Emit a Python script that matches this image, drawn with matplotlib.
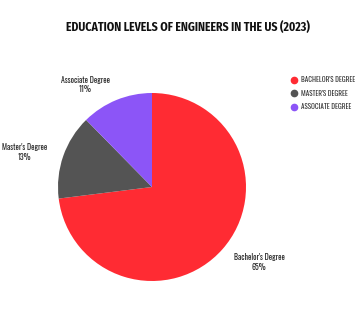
import matplotlib
matplotlib.use("Agg")
import matplotlib.pyplot as plt
from matplotlib.lines import Line2D
from matplotlib import font_manager as fm

categories = ["Bachelor's Degree", "Master's Degree", "Associate Degree"]
values = [65, 13, 11]
colors = ["#ff2b33", "#545454", "#8c55f7"]
title = "EDUCATION LEVELS OF ENGINEERS IN THE US (2023)"

_files = {f.fname.split("/")[-1].lower(): f.fname for f in fm.fontManager.ttflist}


def find_font(candidates):
    for c in candidates:
        if c.lower() in _files:
            return _files[c.lower()]
    return None


bold_path = find_font(["Oswald-Bold.ttf", "Oswald-SemiBold.ttf",
                       "FiraSansCondensed-Bold.ttf", "FiraSansExtraCondensed-Bold.ttf"])
reg_path = find_font(["Oswald-Regular.ttf", "Oswald[wght].ttf", "Oswald-Light.ttf",
                      "FiraSansCondensed-Regular.ttf", "FiraSansExtraCondensed-Regular.ttf"])


def fp(size, bold=False):
    path = bold_path if bold else reg_path
    if path:
        return fm.FontProperties(fname=path, size=size)
    return fm.FontProperties(family="DejaVu Sans", size=size,
                             weight="bold" if bold else "normal")


fig = plt.figure(figsize=(3.6, 3.11), dpi=100)
fig.patch.set_facecolor("white")
renderer = fig.canvas.get_renderer()


def fit_size(text, bold, target_px, base=10.0):
    t = fig.text(0, 0, text, fontproperties=fp(base, bold))
    w = t.get_window_extent(renderer).width
    t.remove()
    return base * target_px / w


ax = fig.add_axes([58/360, 30/311, 188/360, 188/311])
wedges, _ = ax.pie(values, colors=colors, startangle=90, counterclock=False,
                   radius=1.0, wedgeprops=dict(linewidth=0))
ax.set_xlim(-1, 1)
ax.set_ylim(-1, 1)
ax.set_aspect("equal")
ax.axis("off")

label_pos = {
    "Bachelor's Degree": (1.14, -0.80),
    "Master's Degree": (-1.36, 0.37),
    "Associate Degree": (-0.71, 1.09),
}
lab_size = fit_size("Bachelor's Degree", False, 50)
for cat, val in zip(categories, values):
    x, y = label_pos[cat]
    ax.text(x, y, f"{cat}\n{val}%", ha="center", va="center",
            fontproperties=fp(lab_size), color="#222222", linespacing=1.25,
            clip_on=False)

title_size = fit_size(title, True, 244)
fig.text(188/360, 1 - 27/311, title, ha="center", va="center",
         fontproperties=fp(title_size, bold=True), color="#111111")

leg_size = fit_size("BACHELOR'S DEGREE", False, 54)
handles = [Line2D([], [], marker="o", linestyle="none", markersize=4.5,
                  markerfacecolor=c, markeredgecolor=c) for c in colors]
leg = fig.legend(handles, [c.upper() for c in categories], loc="upper left",
                 bbox_to_anchor=(292/360, 1 - 76/311), frameon=False,
                 handlelength=0.7, handletextpad=0.6, labelspacing=0.95,
                 borderaxespad=0, borderpad=0,
                 prop=fp(leg_size))
for t in leg.get_texts():
    t.set_color("#333333")

fig.savefig("out.png", dpi=100, facecolor="white")
